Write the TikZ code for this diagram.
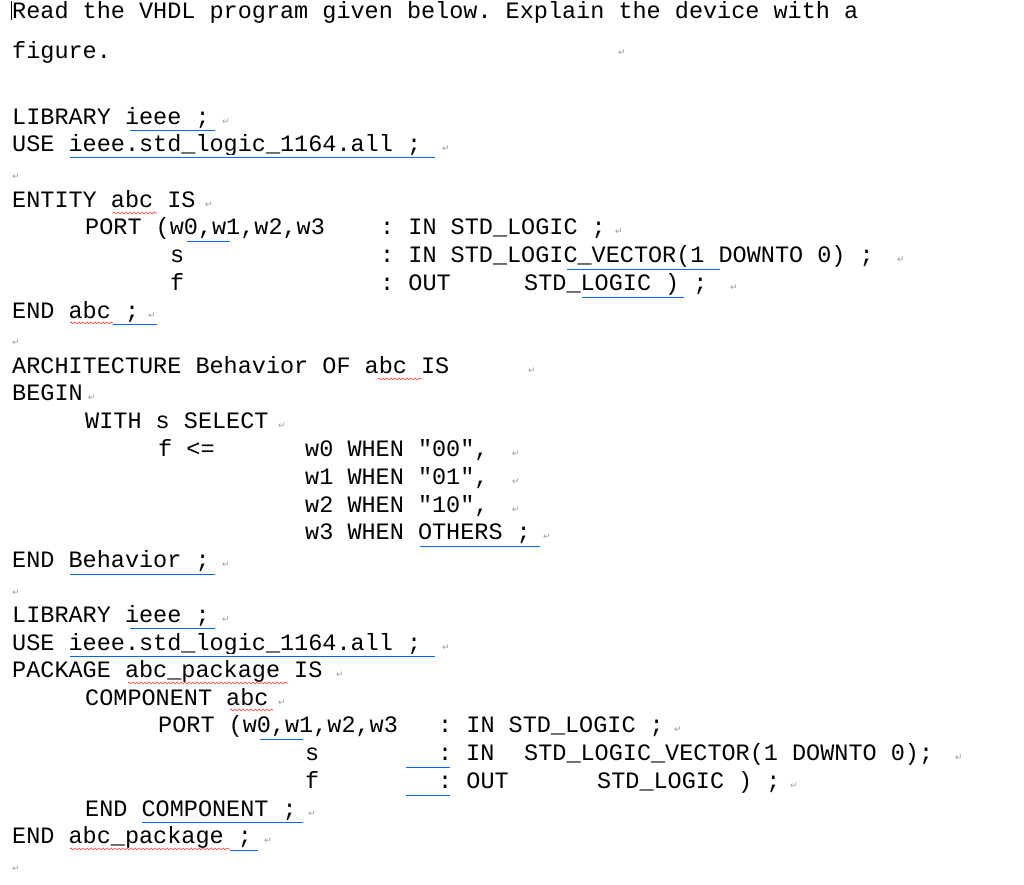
\documentclass[tikz,border=0pt]{standalone}
\usepackage{fontspec}
\setmonofont{Liberation Mono}
\newfontfamily\markfont{DejaVu Sans}
\usetikzlibrary{decorations.pathmorphing}

\tikzset{
  code/.style={anchor=base west, inner sep=0pt, font=\ttfamily\fontsize{23.5}{28}\selectfont},
  ret/.style={anchor=base west, inner sep=0pt, text=black!40, font=\markfont\fontsize{9}{10}\selectfont},
  gram/.style={draw=blue!60!cyan, line width=0.7pt, double distance=1.6pt},
  spell/.style={draw=red!80, line width=0.6pt, decorate, decoration={snake, amplitude=1pt, segment length=4pt}}
}
\newcommand{\cl}[3]{\node[code] at (#1,#2) {#3};}
\newcommand{\rt}[2]{\node[ret] at (#1,#2) {↵};}

\begin{document}
\begin{tikzpicture}[x=1pt, y=-1pt]
\useasboundingbox (0,0) rectangle (1024,884);
\draw[line width=0.5pt] (11,1) -- (11,20);

% question
\cl{12}{18}{Read the VHDL program given below. Explain the device with a}
\cl{12}{58}{figure.}
\rt{618}{55}

% entity
\cl{12}{124}{LIBRARY ieee ;} \rt{222}{124}
\cl{12}{151}{USE ieee.std\_logic\_1164.all ;} \rt{442}{151}
\rt{12}{179}
\cl{12}{207}{ENTITY abc IS} \rt{205}{207}
\cl{85}{234}{PORT (w0,w1,w2,w3}
\cl{380}{234}{: IN STD\_LOGIC ;} \rt{615}{234}
\cl{170}{262}{s}
\cl{380}{262}{: IN STD\_LOGIC\_VECTOR(1 DOWNTO 0) ;} \rt{897}{262}
\cl{170}{290}{f}
\cl{380}{290}{: OUT}
\cl{524}{290}{STD\_LOGIC ) ;} \rt{730}{290}
\cl{12}{318}{END abc ;} \rt{148}{318}
\rt{12}{345}

% architecture
\cl{12}{373}{ARCHITECTURE Behavior OF abc IS} \rt{528}{373}
\cl{12}{400}{BEGIN} \rt{88}{400}
\cl{85}{428}{WITH s SELECT} \rt{278}{428}
\cl{158}{456}{f <=}
\cl{305}{456}{w0 WHEN "00",} \rt{512}{456}
\cl{305}{484}{w1 WHEN "01",} \rt{512}{484}
\cl{305}{512}{w2 WHEN "10",} \rt{512}{512}
\cl{305}{539}{w3 WHEN OTHERS ;} \rt{543}{539}
\cl{12}{567}{END Behavior ;} \rt{222}{567}
\rt{12}{595}

% package
\cl{12}{622}{LIBRARY ieee ;} \rt{222}{622}
\cl{12}{650}{USE ieee.std\_logic\_1164.all ;} \rt{442}{650}
\cl{12}{677}{PACKAGE abc\_package IS} \rt{336}{677}
\cl{85}{705}{COMPONENT abc} \rt{278}{705}
\cl{158}{732}{PORT (w0,w1,w2,w3}
\cl{438}{732}{: IN STD\_LOGIC ;} \rt{674}{732}
\cl{305}{760}{s}
\cl{438}{760}{:}
\cl{466}{760}{IN}
\cl{524}{760}{STD\_LOGIC\_VECTOR(1 DOWNTO 0);} \rt{955}{760}
\cl{305}{788}{f}
\cl{438}{788}{: OUT}
\cl{597}{788}{STD\_LOGIC ) ;} \rt{790}{788}
\cl{85}{816}{END COMPONENT ;} \rt{308}{816}
\cl{12}{843}{END abc\_package ;} \rt{264}{843}
\rt{12}{871}

% spelling and grammar marks
\draw[spell] (130,129) -- (190,129);
\draw[gram] (130,129) -- (215,129);
\draw[gram] (70,156) -- (435,156);
\draw[spell] (113,213) -- (157,213);
\draw[gram] (187,240) -- (230,240);
\draw[gram] (567,268) -- (720,268);
\draw[gram] (582,296) -- (684,296);
\draw[spell] (70,323) -- (113,323);
\draw[gram] (113,323) -- (157,323);
\draw[spell] (378,379) -- (422,379);
\draw[gram] (420,545) -- (540,545);
\draw[gram] (70,573) -- (215,573);
\draw[spell] (130,627) -- (190,627);
\draw[gram] (130,627) -- (215,627);
\draw[gram] (70,655) -- (435,655);
\draw[spell] (128,683) -- (288,683);
\draw[spell] (230,710) -- (273,710);
\draw[gram] (260,738) -- (303,738);
\draw[gram] (406,766) -- (450,766);
\draw[gram] (406,794) -- (450,794);
\draw[gram] (142,821) -- (303,821);
\draw[spell] (70,849) -- (230,849);
\draw[gram] (230,849) -- (258,849);
\end{tikzpicture}
\end{document}
